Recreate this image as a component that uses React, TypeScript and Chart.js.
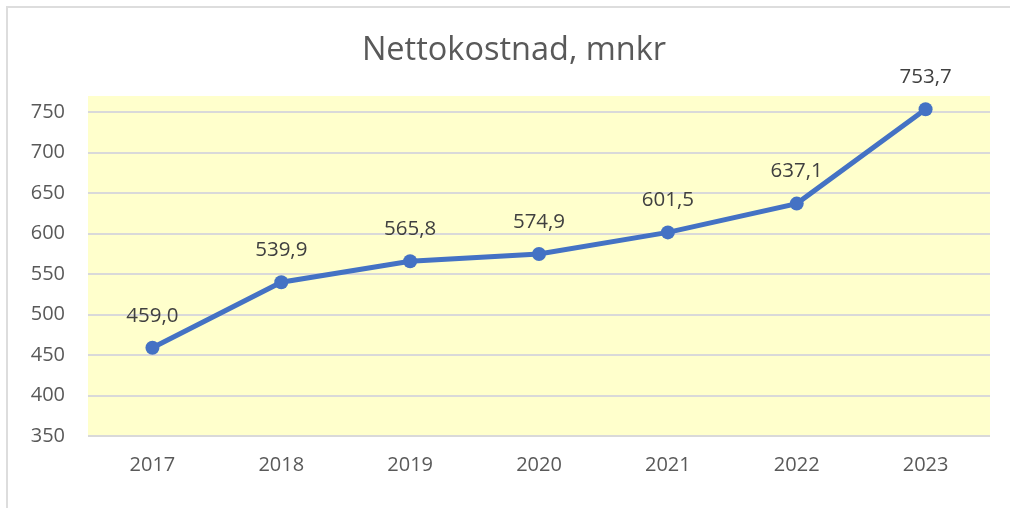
import React, { useEffect, useRef } from "react";
import { Chart, registerables } from "chart.js";

Chart.register(...registerables);

const categories = ["2017", "2018", "2019", "2020", "2021", "2022", "2023"];
const values = [459.0, 539.9, 565.8, 574.9, 601.5, 637.1, 753.7];
const yTicks = [350, 400, 450, 500, 550, 600, 650, 700, 750];
const titleText = "Nettokostnad, mnkr";

const FONT = "'Open Sans', sans-serif";

const plotBg = {
  id: "plotBg",
  beforeDraw(chart: any) {
    const { ctx, chartArea } = chart;
    ctx.save();
    ctx.fillStyle = "#FFFFCC";
    ctx.fillRect(chartArea.left, chartArea.top, chartArea.right - chartArea.left, chartArea.bottom - chartArea.top);
    ctx.restore();
  },
};

const titlePlugin = {
  id: "customTitle",
  afterDraw(chart: any) {
    const { ctx } = chart;
    ctx.save();
    ctx.font = `32.5px ${FONT}`;
    ctx.fillStyle = "#595959";
    ctx.textAlign = "center";
    ctx.textBaseline = "middle";
    ctx.fillText(titleText, 514, 51);
    ctx.restore();
  },
};

const dataLabels = {
  id: "dataLabels",
  afterDatasetsDraw(chart: any) {
    const { ctx } = chart;
    const meta = chart.getDatasetMeta(0);
    ctx.save();
    ctx.font = `20.5px ${FONT}`;
    ctx.fillStyle = "#404040";
    ctx.textAlign = "center";
    ctx.textBaseline = "middle";
    meta.data.forEach((pt: any, i: number) => {
      const v = chart.data.datasets[0].data[i] as number;
      ctx.fillText(v.toFixed(1).replace(".", ","), pt.x, pt.y - 32);
    });
    ctx.restore();
  },
};

export default function App() {
  const ref = useRef<HTMLCanvasElement>(null);
  useEffect(() => {
    if (!ref.current) return;
    const chart = new Chart(ref.current, {
      type: "line",
      data: {
        labels: categories,
        datasets: [
          {
            data: values,
            borderColor: "#4472C4",
            backgroundColor: "#4472C4",
            borderWidth: 5,
            pointRadius: 7,
            pointHoverRadius: 7,
            pointBackgroundColor: "#4472C4",
            pointBorderColor: "#4472C4",
            pointBorderWidth: 0,
            tension: 0,
          },
        ],
      },
      options: {
        animation: false,
        responsive: false,
        maintainAspectRatio: false,
        layout: { padding: { left: 0, right: 20, top: 96, bottom: 0 } },
        plugins: {
          legend: { display: false },
          tooltip: { enabled: false },
          title: { display: false },
        },
        scales: {
          x: {
            offset: true,
            grid: { display: false, drawTicks: false },
            border: { display: false },
            ticks: { color: "#595959", font: { family: FONT, size: 20 }, padding: 17, maxRotation: 0 },
            afterFit(axis: any) {
              axis.height = 72;
            },
          },
          y: {
            min: 350,
            max: 770,
            afterBuildTicks(axis: any) {
              axis.ticks = yTicks.map((v) => ({ value: v }));
            },
            grid: { color: "#D9D9D9", lineWidth: 2, drawTicks: false },
            border: { display: false },
            ticks: { color: "#595959", font: { family: FONT, size: 20 }, padding: 23 },
            afterFit(axis: any) {
              axis.width = 88;
            },
          },
        },
      },
      plugins: [plotBg, dataLabels, titlePlugin],
    });
    return () => chart.destroy();
  }, []);

  return (
    <div style={{ position: "fixed", left: 0, top: 0, width: 1010, height: 508, background: "#fff", overflow: "hidden" }}>
      <div
        style={{
          position: "absolute",
          left: 6,
          top: 6,
          width: 1100,
          height: 600,
          border: "2px solid #DDDDDD",
          boxSizing: "border-box",
        }}
      />
      <canvas ref={ref} width={1010} height={508} style={{ position: "absolute", left: 0, top: 0, display: "block" }} />
    </div>
  );
}
